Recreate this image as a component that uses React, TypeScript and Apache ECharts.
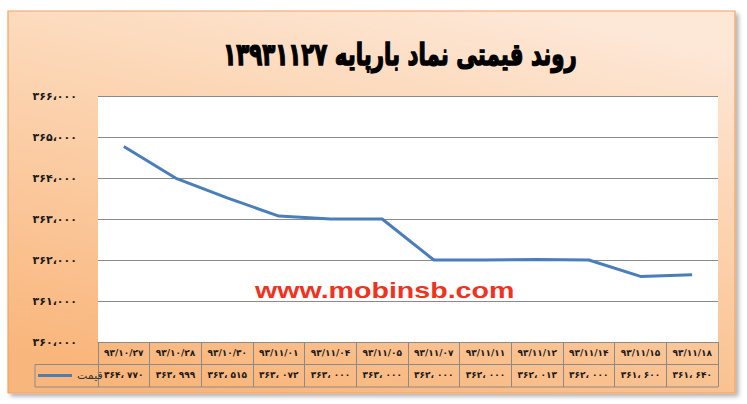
import { useEffect, useRef } from 'react';
import * as echarts from 'echarts';

const titleText = 'روند قیمتی نماد بارپایه ۱۳۹۳۱۱۲۷';
const seriesName = 'قیمت';
const watermark = 'www.mobinsb.com';

const dates = [
  '93/10/27', '93/10/28', '93/10/30', '93/11/01', '93/11/04', '93/11/05',
  '93/11/07', '93/11/11', '93/11/12', '93/11/14', '93/11/15', '93/11/18',
];
const prices = [
  364770, 363999, 363515, 363072, 363000, 363000,
  362000, 362000, 362013, 362000, 361600, 361640,
];
const yMin = 360000;
const yMax = 366000;
const yStep = 1000;

// layout of the page (px)
const W = 747;
const H = 404;
const PLOT_L = 98;
const PLOT_R = 718;
const PLOT_T = 96;
const PLOT_B = 342;
const ROW_H = 22.5;
const LEGEND_L = 35;

const FA = '۰۱۲۳۴۵۶۷۸۹';
const toFa = (s: string) => s.replace(/\d/g, (d) => FA[+d]);
const fmtAxis = (v: number) =>
  toFa(`${Math.floor(v / 1000)}،${String(v % 1000).padStart(3, '0')}`);
const fmtCell = (v: number) =>
  toFa(`${Math.floor(v / 1000)}، ${String(v % 1000).padStart(3, '0')}`);

const GRAY = '#8a8a8a';
const FONT = "'DejaVu Sans', sans-serif";

export default function App() {
  const ref = useRef<HTMLDivElement | null>(null);

  useEffect(() => {
    if (!ref.current) return;
    const chart = echarts.init(ref.current, undefined, { renderer: 'svg' });
    const tableBottom = PLOT_B + ROW_H * 2;

    chart.setOption({
      animation: false,
      legend: {
        left: LEGEND_L + 3,
        top: PLOT_B + ROW_H + 4,
        padding: 0,
        icon: 'rect',
        itemWidth: 34,
        itemHeight: 3,
        itemGap: 4,
        textStyle: { fontFamily: FONT, fontSize: 11, color: '#333', lineHeight: 14 },
        data: [seriesName],
      },
      grid: {
        left: PLOT_L,
        right: W - PLOT_R,
        top: PLOT_T,
        bottom: H - PLOT_B,
        show: true,
        backgroundColor: '#ffffff',
        borderWidth: 0,
      },
      xAxis: [
        {
          type: 'category',
          position: 'bottom',
          data: dates.map(toFa),
          axisLine: { show: true, lineStyle: { color: GRAY, width: 1 } },
          axisTick: { show: true, length: ROW_H * 2, lineStyle: { color: GRAY } },
          axisLabel: {
            interval: 0,
            margin: 6,
            fontFamily: FONT,
            fontSize: 9,
            fontWeight: 'bold',
            color: '#1a1a1a',
          },
        },
        {
          type: 'category',
          position: 'bottom',
          offset: ROW_H,
          data: prices.map(fmtCell),
          axisLine: { show: true, lineStyle: { color: GRAY, width: 1 } },
          axisTick: { show: false },
          axisLabel: {
            interval: 0,
            margin: 6,
            fontFamily: FONT,
            fontSize: 9,
            fontWeight: 'bold',
            color: '#1a1a1a',
          },
        },
      ],
      yAxis: {
        type: 'value',
        min: yMin,
        max: yMax,
        interval: yStep,
        axisLine: { show: false },
        axisTick: { show: false },
        splitLine: { lineStyle: { color: GRAY, width: 1 } },
        axisLabel: {
          margin: 21,
          padding: [0, 0, 8, 0],
          formatter: (v: number) => fmtAxis(v),
          fontFamily: FONT,
          fontSize: 11,
          fontWeight: 'bold',
          color: '#1a1a1a',
        },
      },
      series: [
        {
          name: seriesName,
          type: 'line',
          data: prices,
          showSymbol: false,
          symbol: 'none',
          lineStyle: { color: '#4a7ebb', width: 3 },
          itemStyle: { color: '#4a7ebb' },
        },
      ],
      graphic: [
        {
          type: 'rect',
          z: -10,
          silent: true,
          shape: { x: 8, y: 11, width: 727, height: 382 },
          style: {
            fill: new echarts.graphic.LinearGradient(0.7, 0, 0.3, 1, [
              { offset: 0, color: '#fde7d6' },
              { offset: 0.3, color: '#fcd8b8' },
              { offset: 1, color: '#f9b67c' },
            ]),
            stroke: '#f3a262',
            lineWidth: 1.2,
            shadowBlur: 4,
            shadowOffsetX: 3,
            shadowOffsetY: 3,
            shadowColor: 'rgba(0,0,0,0.3)',
          },
        },
        {
          // chart title, stretched to the tall look of the original font
          type: 'text',
          silent: true,
          x: 400,
          y: 54,
          scaleX: 0.97,
          scaleY: 1.4,
          style: {
            text: titleText,
            fontFamily: FONT,
            fontSize: 22,
            fontWeight: 'bold',
            fill: '#000',
            stroke: '#000',
            lineWidth: 1,
            align: 'center',
            verticalAlign: 'middle',
          },
        },
        {
          type: 'line',
          silent: true,
          shape: { x1: LEGEND_L, y1: PLOT_B + ROW_H, x2: PLOT_L, y2: PLOT_B + ROW_H },
          style: { stroke: GRAY, lineWidth: 1 },
        },
        {
          type: 'line',
          silent: true,
          shape: { x1: LEGEND_L, y1: PLOT_B + ROW_H, x2: LEGEND_L, y2: tableBottom },
          style: { stroke: GRAY, lineWidth: 1 },
        },
        {
          type: 'line',
          silent: true,
          shape: { x1: LEGEND_L, y1: tableBottom, x2: PLOT_R, y2: tableBottom },
          style: { stroke: GRAY, lineWidth: 1 },
        },
        {
          type: 'text',
          silent: true,
          x: 255,
          y: 290,
          scaleX: 1.3,
          z: 10,
          style: {
            text: watermark,
            fontFamily: "'Liberation Sans', Arial, sans-serif",
            fontSize: 22,
            fontWeight: 'bold',
            fill: '#f0321e',
            verticalAlign: 'middle',
          },
        },
      ],
    });

    return () => chart.dispose();
  }, []);

  return (
    <div
      ref={ref}
      style={{ position: 'absolute', left: 0, top: 0, width: W, height: H, background: '#fff' }}
    />
  );
}
